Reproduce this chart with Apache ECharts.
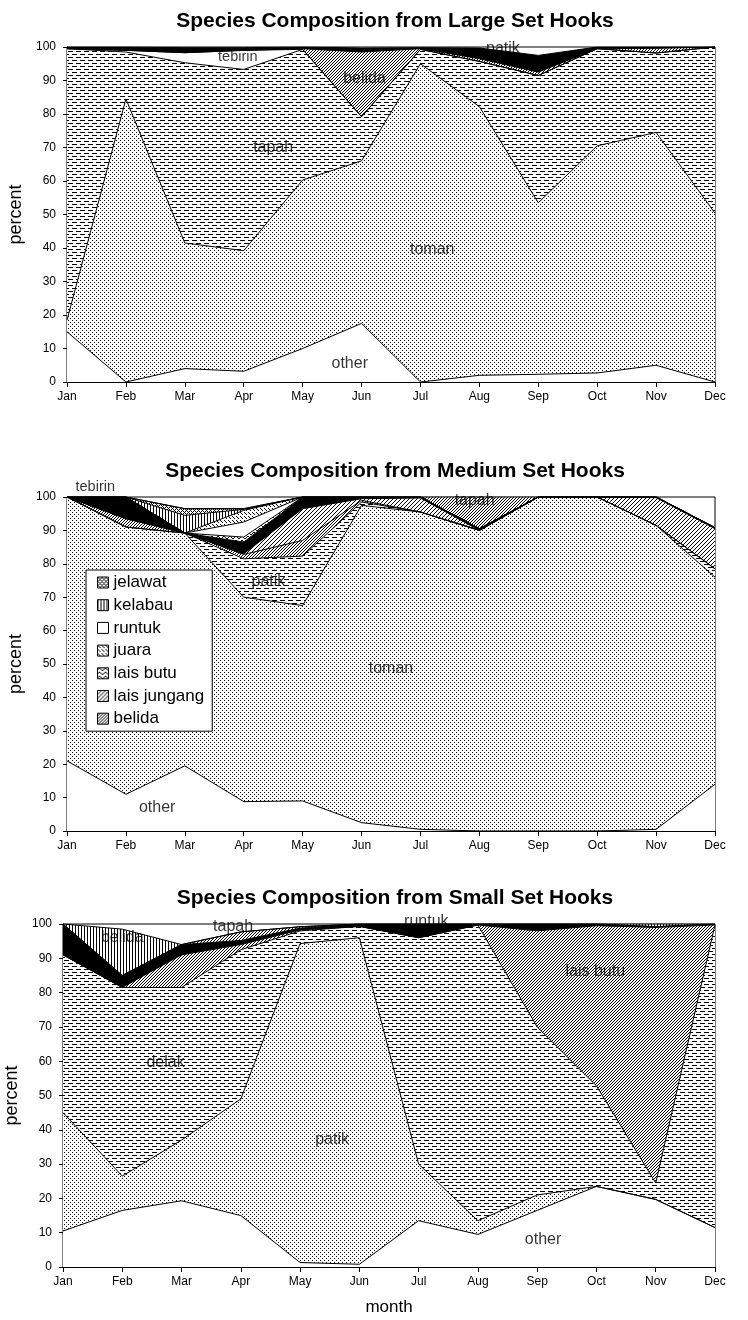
<!DOCTYPE html>
<html>
<head>
<meta charset="utf-8">
<title>Species Composition</title>
<script src="https://cdn.jsdelivr.net/npm/echarts/dist/echarts.min.js"></script>
<style>
  html, body { margin: 0; padding: 0; background: #fff; }
  #main { width: 748px; height: 1320px; }
</style>
</head>
<body>
<div id="main"></div>
<script>
// months on the x axis
const months = ['Jan', 'Feb', 'Mar', 'Apr', 'May', 'Jun', 'Jul', 'Aug', 'Sep', 'Oct', 'Nov', 'Dec'];

/* large set hooks, percent per species (bottom to top) */
const largeOther   = [15, 0, 4, 3.2, 10, 17.5, 0, 2, 2.3, 2.7, 5, 0];
const largeToman   = [3.5, 84.5, 37.5, 36, 50.3, 48.5, 95, 80.2, 51.2, 67.8, 69.5, 50.4];
const largeTapah   = [81, 14, 53.8, 54.1, 39, 13.2, 4.3, 13.5, 38, 29, 23.7, 49.6];
const largeTebirin = [0, 0.5, 3, 5.7, 0, 0, 0, 0, 0, 0, 0, 0];
const largeBelida  = [0, 0, 0, 0, 0.2, 19.3, 0.2, 0.8, 1, 0, 1.4, 0];
const largePatik   = [0.5, 1, 1.5, 0.8, 0.5, 1.2, 0.3, 3.2, 5, 0.5, 0.4, 0];

/* medium set hooks */
const medOther       = [21, 11, 19.5, 8.8, 9, 2.5, 0.5, 0, 0, 0, 0.5, 14];
const medToman       = [79, 80, 69.7, 61.2, 58.5, 95, 95, 90, 100, 100, 91, 62];
const medPatik       = [0, 0, 0, 11.5, 14.8, 1, 0, 0, 0, 0, 0, 2.5];
const medBelida      = [0, 2.5, 0, 1.3, 4.7, 0.5, 0, 0, 0, 0, 0, 0];
const medLaisJungang = [0, 0, 0, 0.2, 9.5, 0.5, 4.2, 0, 0, 0, 8.3, 12];
const medTebirin     = [0, 6.5, 0, 3.5, 3.5, 0.5, 0.3, 0.5, 0, 0, 0.2, 0.3];
const medLaisButu    = [0, 0, 0, 1.5, 0, 0, 0, 0, 0, 0, 0, 0];
const medRuntuk      = [0, 0, 0, 4.5, 0, 0, 0, 0, 0, 0, 0, 0];
const medJuara       = [0, 0, 0, 3.5, 0, 0, 0, 0, 0, 0, 0, 0];
const medKelabau     = [0, 0, 5.3, 0.3, 0, 0, 0, 0, 0, 0, 0, 0];
const medJelawat     = [0, 0, 2, 0.2, 0, 0, 0, 0, 0, 0, 0, 0];
const medTapah       = [0, 0, 0, 0, 0, 0, 0, 9.5, 0, 0, 0, 0];

/* small set hooks */
const smallOther    = [10.5, 16.5, 19.3, 15, 1.3, 0.8, 13.5, 9.5, 16.5, 23.5, 19.7, 11.5];
const smallPatik    = [34.5, 10, 17.7, 34, 93, 95.2, 16.5, 4, 4.5, 0, 0, 0];
const smallDelak    = [46, 55, 44.5, 43.5, 3.7, 3.3, 66, 86.2, 49, 29.3, 4.8, 88.2];
const smallLaisButu = [0, 0, 9.5, 1.5, 0.3, 0, 0, 0, 28, 46.7, 74.5, 0];
const smallRuntuk   = [9, 3.5, 3, 1.2, 0.5, 0.7, 4, 0.3, 2, 0.5, 0.2, 0.3];
const smallTapah    = [0, 0, 0, 2.5, 0.4, 0, 0, 0, 0, 0, 0, 0];
const smallBelida   = [0, 13.5, 0, 0, 0, 0, 0, 0, 0, 0, 0.8, 0];

// text written inside the plots: [text, month index, percent]
const largeNotes  = [['tebirin', 2.9, 97], ['belida', 5.05, 90.5], ['patik', 7.4, 99.6], ['tapah', 3.5, 70], ['toman', 6.2, 39.4], ['other', 4.8, 5.5]];
const mediumNotes = [['tebirin', 0.48, 103], ['patik', 3.42, 74.6], ['tapah', 6.92, 99], ['toman', 5.5, 48.7], ['other', 1.53, 7]];
const smallNotes  = [['belida', 1, 95.9], ['tapah', 2.87, 99.3], ['runtuk', 6.13, 100.8], ['lais butu', 8.98, 86.2], ['delak', 1.73, 59.6], ['patik', 4.54, 37.2], ['other', 8.1, 8]];

const titles = ['Species Composition from Large Set Hooks', 'Species Composition from Medium Set Hooks', 'Species Composition from Small Set Hooks'];
const legendNames = ['jelawat', 'kelabau', 'runtuk', 'juara', 'lais butu', 'lais jungang', 'belida'];

const FONT = '"Liberation Sans", Arial, sans-serif';

// little fill patterns like the old excel ones
function pattern(w, h, pts) {
    const c = document.createElement('canvas');
    c.width = w; c.height = h;
    const g = c.getContext('2d');
    g.fillStyle = '#fff';
    g.fillRect(0, 0, w, h);
    g.fillStyle = '#000';
    pts.forEach(p => g.fillRect(p[0], p[1], p[2] || 1, 1));
    return { image: c, repeat: 'repeat' };
}
const fill = {
    white: '#fff',
    black: '#000',
    dots: pattern(4, 4, [[0, 0], [2, 2]]),
    dashes: pattern(8, 6, [[0, 0, 5], [4, 3, 4], [0, 3]]),
    diag: pattern(3, 3, [[0, 2], [1, 1], [2, 0]]),
    diagLight: pattern(4, 4, [[0, 3], [1, 2], [2, 1], [3, 0]]),
    vlines: pattern(3, 1, [[0, 0]]),
    cross: pattern(4, 4, [[0, 0], [1, 1], [2, 2], [3, 3], [3, 1], [1, 3]]),
    wave: pattern(6, 4, [[0, 1], [1, 0], [2, 0], [3, 1], [4, 2], [5, 2]]),
    sparse: pattern(4, 4, [[0, 0], [2, 2], [1, 1]])
};

function area(name, data, color, i) {
    return {
        name: name,
        type: 'line',
        stack: 'st' + i,
        xAxisIndex: i,
        yAxisIndex: i,
        data: data,
        symbol: 'none',
        lineStyle: { color: '#000', width: 1 },
        itemStyle: { color: color },
        areaStyle: { color: color, opacity: 1 },
        emphasis: { disabled: true },
        silent: true
    };
}
function notes(list, i) {
    return {
        name: 'notes' + i,
        type: 'scatter',
        xAxisIndex: 3 + i,
        yAxisIndex: i,
        symbolSize: 0,
        clip: false,
        silent: true,
        z: 10,
        label: { show: true, position: 'inside', formatter: '{b}', fontSize: 16, color: '#000', fontFamily: FONT },
        data: list.map(n => ({
            name: n[0],
            value: [n[1], n[2]],
            // tebirin is written a bit smaller in the original
            label: n[0] === 'tebirin' ? { fontSize: 14.5 } : undefined
        }))
    };
}

const grids = [
    { left: 67, right: 33, top: 47, height: 335 },
    { left: 67, right: 33, top: 497, height: 334 },
    { left: 63, right: 33, top: 924, height: 343 }
];

const chart = echarts.init(document.getElementById('main'), null, { renderer: 'canvas' });

const series = [
    area('other', largeOther, fill.white, 0),
    area('toman', largeToman, fill.dots, 0),
    area('tapah', largeTapah, fill.dashes, 0),
    area('tebirin', largeTebirin, fill.white, 0),
    area('belida', largeBelida, fill.diag, 0),
    area('patik', largePatik, fill.black, 0),

    area('other', medOther, fill.white, 1),
    area('toman', medToman, fill.dots, 1),
    area('patik', medPatik, fill.dashes, 1),
    area('belida', medBelida, fill.diag, 1),
    area('lais jungang', medLaisJungang, fill.diagLight, 1),
    area('tebirin', medTebirin, fill.black, 1),
    area('lais butu', medLaisButu, fill.wave, 1),
    area('runtuk', medRuntuk, fill.white, 1),
    area('juara', medJuara, fill.sparse, 1),
    area('kelabau', medKelabau, fill.vlines, 1),
    area('jelawat', medJelawat, fill.cross, 1),
    area('tapah', medTapah, fill.diag, 1),

    area('other', smallOther, fill.white, 2),
    area('patik', smallPatik, fill.dots, 2),
    area('delak', smallDelak, fill.dashes, 2),
    area('lais butu', smallLaisButu, fill.diag, 2),
    area('runtuk', smallRuntuk, fill.black, 2),
    area('tapah', smallTapah, fill.diag, 2),
    area('belida', smallBelida, fill.vlines, 2),

    notes(largeNotes, 0),
    notes(mediumNotes, 1),
    notes(smallNotes, 2)
];

const legendFill = {
    'jelawat': fill.cross, 'kelabau': fill.vlines, 'runtuk': fill.white, 'juara': fill.sparse,
    'lais butu': fill.wave, 'lais jungang': fill.diagLight, 'belida': fill.diag
};

const option = {
    animation: false,
    backgroundColor: '#fff',
    title: titles.map((t, i) => ({
        text: t,
        left: 390,
        top: grids[i].top - 41,
        textAlign: 'center',
        textStyle: { fontSize: 21, fontWeight: 'bold', color: '#000', fontFamily: FONT }
    })),
    legend: {
        orient: 'vertical',
        left: 86,
        top: 570,
        itemWidth: 11,
        itemHeight: 11,
        itemGap: 5.7,
        itemStyle: { borderColor: '#000', borderWidth: 1 },
        padding: [4, 8, 4, 11],
        borderColor: '#000',
        borderWidth: 1,
        backgroundColor: '#fff',
        selectedMode: false,
        textStyle: { fontSize: 17, color: '#000', fontFamily: FONT },
        data: legendNames.map(n => ({
            name: n,
            icon: 'rect',
            itemStyle: { color: legendFill[n], borderColor: '#000', borderWidth: 1 }
        }))
    },
    // fixed plot boxes, no automatic shifting for the labels
    grid: grids.map(g => Object.assign({
        show: true, borderColor: '#000', borderWidth: 1, backgroundColor: 'transparent',
        containLabel: false, outerBoundsMode: 'none'
    }, g)),
    xAxis: [0, 1, 2].map(i => ({
        type: 'category',
        gridIndex: i,
        data: months,
        boundaryGap: false,
        axisLine: { lineStyle: { color: '#000', width: 1 } },
        axisTick: { show: true, length: 5, interval: 0, lineStyle: { color: '#000' } },
        axisLabel: { color: '#000', fontSize: 12, margin: 9, fontFamily: FONT, interval: 0 },
        splitLine: { show: false },
        name: i === 2 ? 'month' : '',
        nameLocation: 'middle',
        nameGap: 32,
        nameTextStyle: { fontSize: 17, color: '#000', fontFamily: FONT }
    })).concat([0, 1, 2].map(i => ({
        type: 'value', gridIndex: i, min: 0, max: 11, show: false
    }))),
    yAxis: [0, 1, 2].map(i => ({
        type: 'value',
        gridIndex: i,
        min: 0,
        max: 100,
        interval: 10,
        axisLine: { show: true, lineStyle: { color: '#000', width: 1 } },
        axisTick: { show: true, length: 4, lineStyle: { color: '#000' } },
        axisLabel: { color: '#000', fontSize: 12, margin: 11, fontFamily: FONT },
        splitLine: { show: false },
        name: 'percent',
        nameLocation: 'middle',
        nameGap: 33,
        nameTextStyle: { fontSize: 18, color: '#000', fontFamily: FONT }
    })),
    series: series
};

chart.setOption(option);
</script>
</body>
</html>
